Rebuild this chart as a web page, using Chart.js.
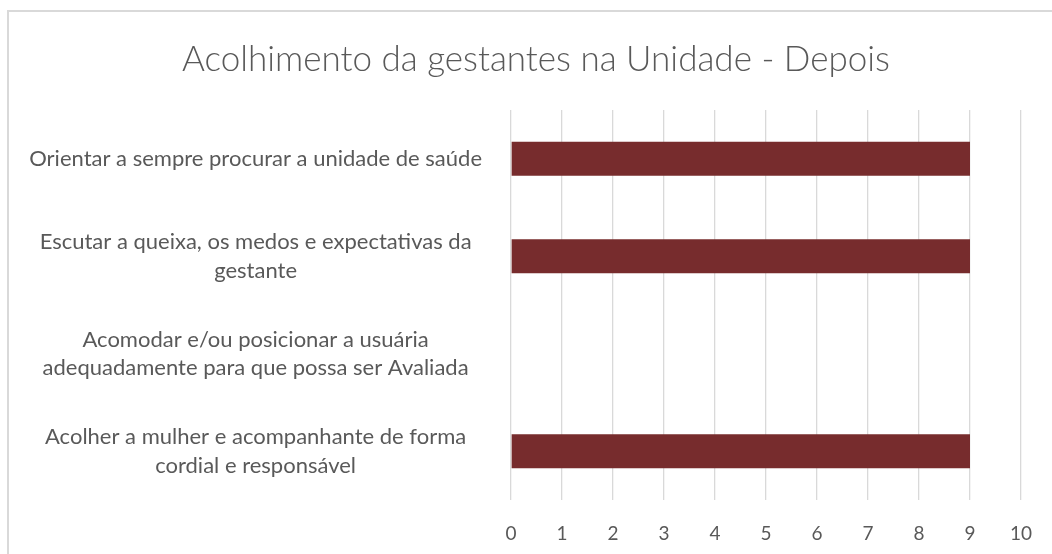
<!doctype html>
<html lang="pt">
<head>
  <meta charset="utf-8">
  <title>Acolhimento da gestantes na Unidade - Depois</title>
  <style>
    * {
      margin: 0;
      padding: 0;
    }
    body {
      width: 1052px;
      height: 554px;
      overflow: hidden;
      background: white;
      position: relative;
    }
    /* chart frame, only top and left edges are visible in the picture */
    .frame {
      position: absolute;
      left: 7px;
      top: 10px;
      width: 1200px;
      height: 700px;
      border-left: 2px solid #d9d9d9;
      border-top: 2px solid #d9d9d9;
    }
    .chartBox {
      position: absolute;
      left: 0;
      top: 0;
      width: 1052px;
      height: 554px;
    }
  </style>
</head>
<body>
  <div class="frame"></div>
  <div class="chartBox">
    <canvas id="myChart"></canvas>
  </div>

  <script src="https://cdn.jsdelivr.net/npm/chart.js"></script>
  <script>
    // data
    const categorias = [
      ['Orientar a sempre procurar a unidade de saúde'],
      ['Escutar a queixa, os medos e expectativas da', 'gestante'],
      ['Acomodar e/ou posicionar a usuária', 'adequadamente para que possa ser Avaliada'],
      ['Acolher a mulher e acompanhante de forma', 'cordial e responsável']
    ];
    const valores = [9, 9, 0, 9];
    const eixoMin = 0;
    const eixoMax = 10;
    const titulo = 'Acolhimento da gestantes na Unidade - Depois';

    const cinza = '#595959';
    const fonte = 'Lato, "Open Sans", sans-serif';

    // the category labels are wider than the y axis box; let them use the space to the left
    const soltarRotulos = {
      id: 'soltarRotulos',
      afterLayout(chart) {
        chart.scales.y.left = 0;
      }
    };

    const data = {
      labels: categorias,
      datasets: [{
        label: 'Série1',
        data: valores,
        backgroundColor: '#772c2d',
        borderWidth: 0,
        barPercentage: 0.35,
        categoryPercentage: 1
      }]
    };

    // config
    const config = {
      type: 'bar',
      data,
      plugins: [soltarRotulos],
      options: {
        indexAxis: 'y',
        responsive: true,
        maintainAspectRatio: false,
        animation: false,
        layout: {
          padding: { left: 51, right: 31, top: 0, bottom: 9 }
        },
        scales: {
          x: {
            min: eixoMin,
            max: eixoMax,
            afterFit: (scale) => {
              scale.height = 45;
              scale.paddingLeft = 0;
              scale.paddingRight = 0;
            },
            ticks: {
              stepSize: 1,
              color: cinza,
              padding: 22,
              font: { family: fonte, size: 19 }
            },
            grid: {
              color: '#d9d9d9',
              lineWidth: 1.3,
              drawTicks: false
            },
            border: { display: false }
          },
          y: {
            // fixed width so the plot starts where the reference's does
            afterFit: (scale) => {
              scale.width = 460;
              scale.paddingTop = 0;
              scale.paddingBottom = 0;
            },
            ticks: {
              crossAlign: 'center',
              color: cinza,
              padding: 21,
              font: { family: fonte, size: 22, lineHeight: 1.3 }
            },
            grid: { display: false },
            border: { display: false }
          }
        },
        plugins: {
          legend: { display: false },
          tooltip: { enabled: false },
          title: {
            display: true,
            text: titulo,
            color: cinza,
            padding: { top: 39, bottom: 29 },
            font: { family: fonte, size: 35, weight: 300, lineHeight: 1.2 }
          }
        }
      }
    };

    // render
    const myChart = new Chart(document.getElementById('myChart'), config);
  </script>
</body>
</html>
